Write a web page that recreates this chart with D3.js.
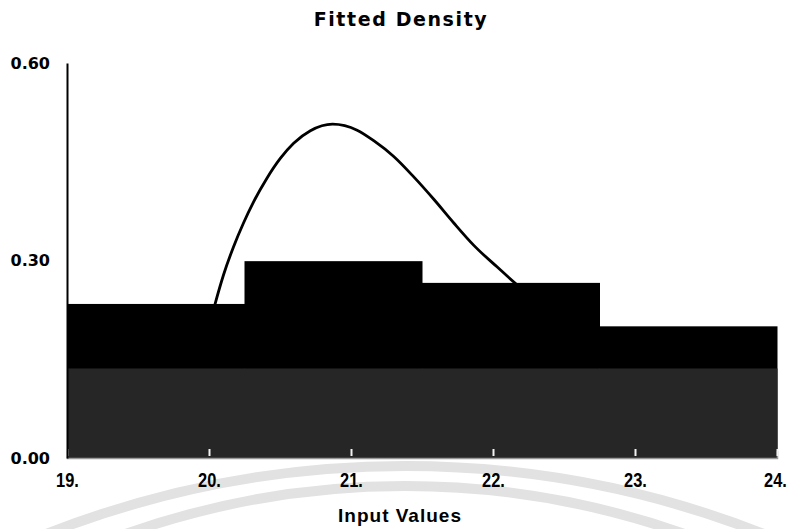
<!DOCTYPE html>
<html>
<head>
<meta charset="utf-8">
<script src="https://cdn.jsdelivr.net/npm/d3@7"></script>
<style>
  body { margin: 0; background: #fff; }
  svg { display: block; }
</style>
</head>
<body>
<svg id="chart"></svg>
<script>
// histogram bins (edges) and their density heights
var binEdges = [19, 20.25, 21.5, 22.75, 24];
var binDensity = [0.234, 0.299, 0.266, 0.200];
// dark lower band drawn over the bars
var bandDensity = [0.136, 0.136, 0.136, 0.136];

// fitted curve
var curveX = [20.0, 20.044, 20.102, 20.173, 20.243, 20.314, 20.408, 20.502, 20.596, 20.714, 20.87,
              21.043, 21.160, 21.301, 21.442, 21.583, 21.724, 21.865, 22.030, 22.159, 22.25];
var curveY = [0.199, 0.235, 0.278, 0.321, 0.357, 0.389, 0.425, 0.455, 0.478, 0.497, 0.507,
              0.498, 0.482, 0.458, 0.427, 0.393, 0.357, 0.323, 0.290, 0.265, 0.248];

var xTicks = [19, 20, 21, 22, 23, 24];
var xTickLabels = ["19.", "20.", "21.", "22.", "23.", "24."];
var yTicks = [0, 0.3, 0.6];
var yTickLabels = ["0.00", "0.30", "0.60"];

var svgWidth = 790, svgHeight = 529;
var svg = d3.select("#chart")
    .attr("width", svgWidth)
    .attr("height", svgHeight);

//scales
var x = d3.scaleLinear().domain([19, 24]).range([67, 777]);
var y = d3.scaleLinear().domain([0, 0.6]).range([458, 63]);

// squeeze a text horizontally, like a narrow font
function narrow(sel, k) {
    sel.each(function () {
        var len = this.getComputedTextLength();
        d3.select(this).attr("textLength", len * k).attr("lengthAdjust", "spacingAndGlyphs");
    });
}

// faint watermark arcs behind everything
var wm = svg.append("g").attr("fill", "none").attr("stroke", "#e2e2e2").attr("stroke-width", 10);
wm.append("path")
    .attr("transform", "translate(405,1447)")
    .attr("d", d3.arc()({ innerRadius: 981, outerRadius: 981, startAngle: -0.38, endAngle: 0.38 }).replace(/Z$/, ""));
wm.append("path")
    .attr("transform", "translate(405,1324)")
    .attr("d", d3.arc()({ innerRadius: 838, outerRadius: 838, startAngle: -0.34, endAngle: 0.34 }).replace(/Z$/, ""));

// fitted curve (bars cover its ends)
var curveData = curveX.map(function (d, i) { return { x: d, y: curveY[i] }; });
var line = d3.line()
    .x(function (d) { return x(d.x); })
    .y(function (d) { return y(d.y); })
    .curve(d3.curveMonotoneX);
svg.append("path")
    .datum(curveData)
    .attr("fill", "none")
    .attr("stroke", "#000")
    .attr("stroke-width", 2.8)
    .attr("stroke-linejoin", "round")
    .attr("d", line);

// bars
var bins = binDensity.map(function (d, i) {
    return { x0: binEdges[i], x1: binEdges[i + 1], v: d, band: bandDensity[i] };
});
svg.append("g").selectAll("rect")
    .data(bins)
    .join("rect")
    .attr("x", function (d) { return x(d.x0); })
    .attr("width", function (d) { return x(d.x1) - x(d.x0) + 0.5; })
    .attr("y", function (d) { return y(d.v); })
    .attr("height", function (d) { return y(0) - y(d.v); })
    .attr("fill", "#000");

svg.append("g").selectAll("rect")
    .data(bins)
    .join("rect")
    .attr("x", function (d) { return x(d.x0); })
    .attr("width", function (d) { return x(d.x1) - x(d.x0) + 0.5; })
    .attr("y", function (d) { return y(d.band); })
    .attr("height", function (d) { return y(0) - y(d.band); })
    .attr("fill", "#262626");

// x axis
var xAxis = svg.append("g")
    .attr("transform", "translate(0," + y(0) + ")")
    .call(d3.axisBottom(x).tickValues(xTicks).tickSize(-7).tickPadding(14)
        .tickFormat(function (d, i) { return xTickLabels[i]; }));
xAxis.select(".domain").attr("stroke", "#999").attr("stroke-width", 1.5);
xAxis.selectAll(".tick line").attr("stroke", "#f2f2f2").attr("stroke-width", 2)
    .attr("transform", "translate(0,-2)");
xAxis.selectAll(".tick text")
    .attr("fill", "#000")
    .style("font-family", "'Liberation Sans', Arial, sans-serif")
    .style("font-weight", "bold")
    .style("font-size", "21px")
    .call(narrow, 0.78);
// last label sits against the right edge, as in the original
xAxis.selectAll(".tick").filter(function (d) { return d === 24; }).select("text").attr("dx", -2);

//y axis
var yAxis = svg.append("g")
    .attr("transform", "translate(" + x(19) + ",0)")
    .call(d3.axisLeft(y).tickValues(yTicks).tickSize(0).tickPadding(17)
        .tickFormat(function (d, i) { return yTickLabels[i]; }));
yAxis.select(".domain").attr("stroke", "#000").attr("stroke-width", 2);
yAxis.selectAll(".tick text")
    .attr("fill", "#000")
    .style("font-family", "'DejaVu Sans', sans-serif")
    .style("font-weight", "bold")
    .style("font-size", "16px");

// title
svg.append("text")
    .attr("x", 401)
    .attr("y", 26)
    .attr("text-anchor", "middle")
    .style("font-family", "'DejaVu Sans', sans-serif")
    .style("font-weight", "bold")
    .style("font-size", "19px")
    .style("letter-spacing", "1.6px")
    .text("Fitted Density");

// axis label
svg.append("text")
    .attr("x", 400)
    .attr("y", 522)
    .attr("text-anchor", "middle")
    .style("font-family", "'Liberation Sans', Arial, sans-serif")
    .style("font-weight", "bold")
    .style("font-size", "19px")
    .style("letter-spacing", "1px")
    .text("Input Values");
</script>
</body>
</html>
